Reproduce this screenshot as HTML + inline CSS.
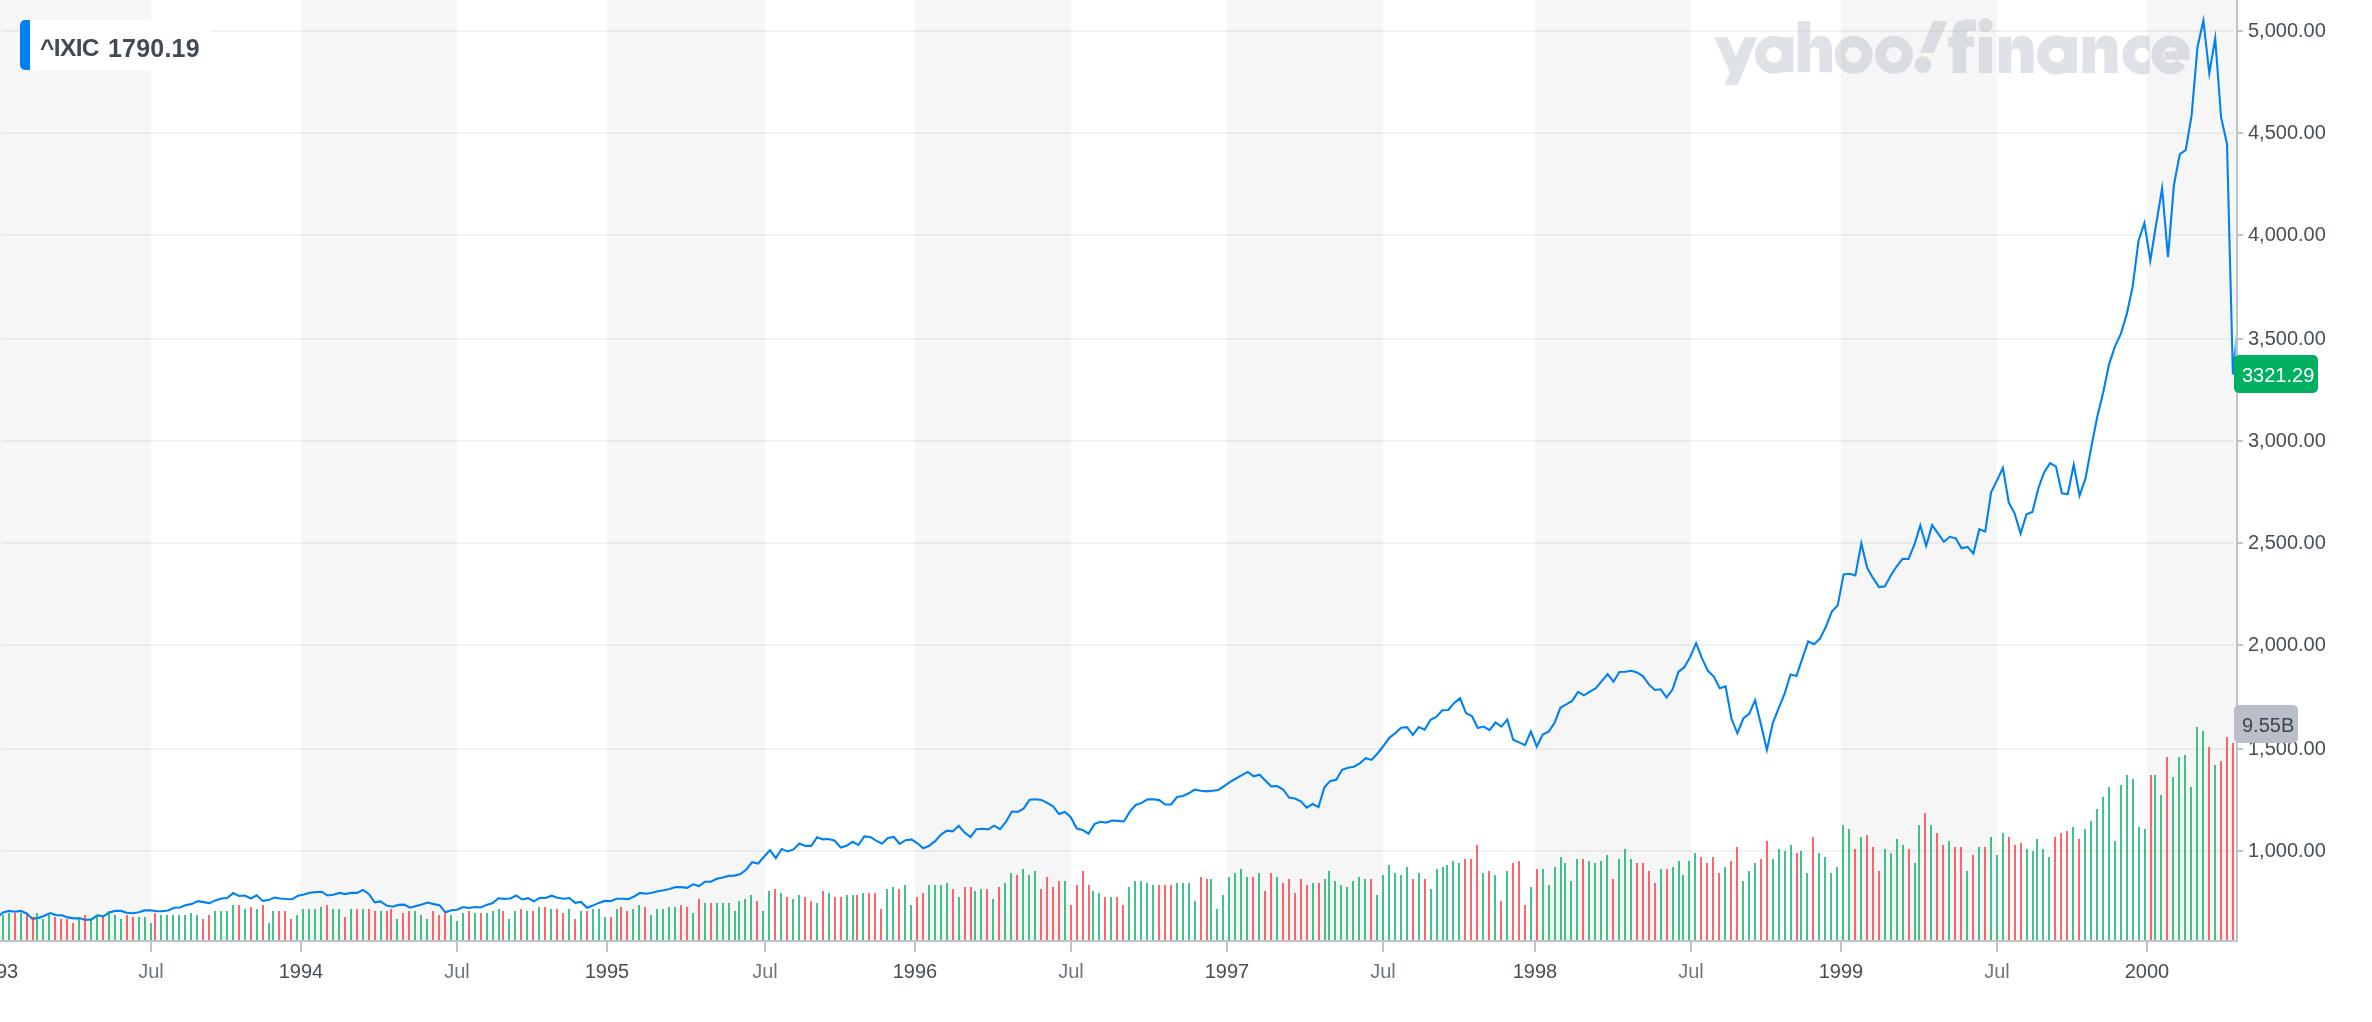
<!DOCTYPE html><html><head><meta charset="utf-8"><title>^IXIC</title><style>
html,body{margin:0;padding:0;background:#fff;}
body{width:2372px;height:1022px;overflow:hidden;position:relative;font-family:"Liberation Sans",sans-serif;}
.t{position:absolute;white-space:nowrap;will-change:transform;font-size:20px;line-height:20px;color:#464e56;}
.yl{left:2247.6px;}
.xl{top:961px;transform:translateX(-50%);}
.m{color:#6e7780;}

</style></head><body>
<svg width="2372" height="1022" viewBox="0 0 2372 1022" style="position:absolute;left:0;top:0">
<rect x="0" y="0" width="151" height="940" fill="#f6f6f6"/>
<rect x="301" y="0" width="156" height="940" fill="#f6f6f6"/>
<rect x="607" y="0" width="158" height="940" fill="#f6f6f6"/>
<rect x="915" y="0" width="156" height="940" fill="#f6f6f6"/>
<rect x="1227" y="0" width="156" height="940" fill="#f6f6f6"/>
<rect x="1535" y="0" width="156" height="940" fill="#f6f6f6"/>
<rect x="1841" y="0" width="156" height="940" fill="#f6f6f6"/>
<rect x="2147" y="0" width="89" height="940" fill="#f6f6f6"/>
<rect x="2" y="30" width="2232" height="2" fill="#000" fill-opacity="0.05"/>
<rect x="2" y="132" width="2232" height="2" fill="#000" fill-opacity="0.05"/>
<rect x="2" y="234" width="2232" height="2" fill="#000" fill-opacity="0.05"/>
<rect x="2" y="338" width="2232" height="2" fill="#000" fill-opacity="0.05"/>
<rect x="2" y="440" width="2232" height="2" fill="#000" fill-opacity="0.05"/>
<rect x="2" y="542" width="2232" height="2" fill="#000" fill-opacity="0.05"/>
<rect x="2" y="644" width="2232" height="2" fill="#000" fill-opacity="0.05"/>
<rect x="2" y="748" width="2232" height="2" fill="#000" fill-opacity="0.05"/>
<rect x="2" y="850" width="2232" height="2" fill="#000" fill-opacity="0.05"/>
<g opacity="0.3" fill="#98a5b6" style="filter:blur(0.4px)"><polygon points="1714.3,37.2 1727.7,37.2 1735.8,56.4 1744.5,37.2 1757.2,37.2 1737.7,85.0 1724.5,85.0 1729.9,72.2"/><circle cx="1774.0" cy="54.8" r="13.44" fill="none" stroke="#98a5b6" stroke-width="11.07"/><rect x="1781.4" y="37.2" width="12.1" height="35.0"/><rect x="1797.7" y="21.1" width="12.6" height="51.1"/><path d="M1810.4,43.7Q1813.6,35.8 1820.4,35.8Q1832.0,35.8 1832.0,50.1V72.2H1819.4V52.2Q1819.4,46.9 1814.8,46.9Q1810.4,46.9 1810.4,52.2Z"/><circle cx="1853.6" cy="54.8" r="13.44" fill="none" stroke="#98a5b6" stroke-width="11.07"/><circle cx="1894.0" cy="54.8" r="13.44" fill="none" stroke="#98a5b6" stroke-width="11.07"/><polygon points="1933.2,21.1 1947.4,21.1 1933.9,52.7 1920.0,52.7"/><circle cx="1923.0" cy="64.8" r="8.43"/><path d="M1952.6,73.0V33.6Q1952.6,19.3 1968.0,19.3H1976.2V30.8H1970.7Q1966.3,30.8 1966.3,35.2V73.0Z"/><rect x="1948.2" y="36.9" width="25.8" height="9.9"/><rect x="1978.9" y="36.9" width="13.2" height="36.2"/><circle cx="1985.5" cy="25.3" r="7.23"/><rect x="1998.6" y="36.9" width="12.6" height="36.2"/><path d="M2011.2,45.1Q2014.0,35.8 2022.2,35.8Q2033.7,35.8 2033.7,50.6V73.0H2020.6V53.3Q2020.6,48.4 2015.9,48.4Q2011.2,48.4 2011.2,53.3Z"/><rect x="2082.5" y="36.9" width="12.6" height="36.2"/><path d="M2095.1,45.1Q2097.8,35.8 2106.1,35.8Q2117.6,35.8 2117.6,50.6V73.0H2104.4V53.3Q2104.4,48.4 2099.7,48.4Q2095.1,48.4 2095.1,53.3Z"/><circle cx="2056.7" cy="54.9" r="13.59" fill="none" stroke="#98a5b6" stroke-width="12.28"/><rect x="2063.9" y="36.9" width="13.2" height="36.2"/><clipPath id="cc"><rect x="2115.4" y="31.9" width="34.2" height="46.0"/></clipPath><g clip-path="url(#cc)"><circle cx="2142.2" cy="54.9" r="13.59" fill="none" stroke="#98a5b6" stroke-width="12.28"/></g><path d="M2181.4,63.3 A13.59,13.59 0 1 1 2184.3,54.5" fill="none" stroke="#98a5b6" stroke-width="11.40"/><rect x="2164.2" y="51.4" width="25.5" height="8.4"/></g>
<clipPath id="cp"><rect x="0" y="0" width="2235.5" height="940"/></clipPath>
<polyline clip-path="url(#cp)" fill="none" stroke="#0081f2" stroke-width="2.1" stroke-linejoin="miter" stroke-miterlimit="10" points="-2.9,917.5 3.0,912.5 8.9,910.9 14.8,911.8 20.7,910.9 26.6,913.5 32.5,918.9 38.4,917.9 44.3,915.8 50.2,913.1 56.1,915.1 62.0,915.3 67.9,917.4 73.8,918.4 79.7,918.2 85.6,919.9 91.5,919.4 97.4,915.3 103.3,916.3 109.2,912.5 115.1,910.9 121.0,910.9 126.9,912.8 132.8,913.3 138.7,912.3 144.6,910.4 150.5,910.2 156.4,911.2 162.3,911.2 168.2,910.5 174.1,907.7 180.0,907.5 185.9,905.1 191.8,904.1 197.7,901.1 203.6,902.1 209.5,903.1 215.4,900.4 221.3,898.5 227.2,898.0 233.1,893.1 239.0,896.0 244.9,895.5 250.8,898.5 256.7,895.3 262.6,900.9 268.5,900.1 274.4,897.5 280.3,898.5 286.2,899.0 292.1,899.3 298.0,895.8 303.9,894.5 309.8,892.7 315.7,892.1 321.6,891.7 327.5,895.5 333.4,894.8 339.3,892.9 345.2,894.1 351.1,892.9 357.0,892.9 362.9,889.9 368.8,893.9 374.7,902.3 380.6,901.4 386.5,905.6 392.4,906.7 398.3,904.9 404.2,904.6 410.1,907.7 416.0,906.0 421.9,904.6 427.7,902.6 433.6,904.1 439.5,905.1 445.4,912.3 451.3,910.2 457.2,909.7 463.1,907.0 469.0,908.0 474.9,907.0 480.8,907.5 486.7,904.9 492.6,903.1 498.5,898.3 504.4,898.9 510.3,898.5 516.2,895.5 522.1,899.5 528.0,898.2 533.9,901.4 539.8,897.8 545.7,898.0 551.6,895.7 557.5,897.8 563.4,898.8 569.3,898.0 575.2,902.9 581.1,901.9 587.0,907.7 592.9,905.6 598.8,902.9 604.7,900.9 610.6,901.1 616.5,898.7 622.4,898.7 628.3,899.1 634.2,896.5 640.1,892.9 646.0,893.7 651.9,892.7 657.8,891.2 663.7,890.2 669.6,889.1 675.5,887.0 681.4,887.1 687.3,887.8 693.2,884.3 699.1,886.0 705.0,881.7 710.9,881.7 716.8,878.7 722.7,877.5 728.6,875.9 734.5,875.6 740.4,874.1 746.3,869.5 752.2,862.2 758.1,863.6 764.0,856.8 769.9,850.2 775.8,858.1 781.7,849.0 787.6,851.4 793.5,849.4 799.4,843.5 805.3,845.9 811.2,845.9 817.1,837.2 823.0,839.4 828.9,839.0 834.8,840.7 840.7,847.6 846.6,845.8 852.5,841.8 858.4,845.0 864.3,836.4 870.2,836.9 876.1,840.7 882.0,843.8 887.9,838.0 893.8,837.0 899.7,843.8 905.6,840.2 911.5,839.4 917.4,843.3 923.3,848.2 929.2,845.8 935.1,841.2 941.0,834.6 946.9,830.6 952.8,831.4 958.7,825.7 964.6,832.6 970.5,837.0 976.4,829.2 982.3,828.8 988.2,829.3 994.1,825.7 1000.0,829.2 1005.9,821.9 1011.8,811.5 1017.7,811.9 1023.6,808.7 1029.5,799.8 1035.4,799.2 1041.3,799.9 1047.2,802.9 1053.1,806.3 1059.0,814.1 1064.9,811.9 1070.8,817.2 1076.7,828.6 1082.6,829.9 1088.5,833.7 1094.4,824.1 1100.3,821.8 1106.2,822.6 1112.1,820.5 1118.0,820.9 1123.9,821.5 1129.8,811.6 1135.7,805.0 1141.6,802.9 1147.5,799.4 1153.4,799.2 1159.3,800.1 1165.2,804.5 1171.1,804.5 1177.0,797.0 1182.9,796.0 1188.8,793.3 1194.7,789.7 1200.6,790.7 1206.5,791.4 1212.4,790.7 1218.3,790.0 1224.2,786.1 1230.1,781.8 1236.0,778.5 1241.9,775.1 1247.8,771.9 1253.7,776.3 1259.6,774.7 1265.5,780.7 1271.3,786.4 1277.2,786.0 1283.1,789.5 1289.0,797.6 1294.9,798.5 1300.8,801.3 1306.7,807.7 1312.6,804.0 1318.5,807.1 1324.4,787.4 1330.3,780.9 1336.2,779.7 1342.1,769.8 1348.0,767.7 1353.9,766.7 1359.8,763.3 1365.7,758.2 1371.6,759.9 1377.5,753.5 1383.4,746.0 1389.3,737.8 1395.2,733.2 1401.1,727.8 1407.0,727.1 1412.9,735.0 1418.8,727.1 1424.7,729.6 1430.6,719.7 1436.5,716.6 1442.4,710.2 1448.3,710.0 1454.2,702.9 1460.1,698.3 1466.0,713.1 1471.9,716.1 1477.8,728.0 1483.7,726.6 1489.6,730.2 1495.5,722.5 1501.4,726.6 1507.3,719.6 1513.2,739.7 1519.1,742.4 1525.0,745.1 1530.9,731.6 1536.8,746.7 1542.7,734.5 1548.6,731.7 1554.5,723.0 1560.4,707.8 1566.3,704.4 1572.2,700.9 1578.1,691.8 1584.0,695.3 1589.9,691.7 1595.8,688.1 1601.7,681.1 1607.6,674.2 1613.5,681.7 1619.4,672.0 1625.3,671.8 1631.2,670.8 1637.1,672.4 1643.0,676.3 1648.9,684.4 1654.8,690.0 1660.7,689.3 1666.6,697.5 1672.5,689.6 1678.4,671.8 1684.3,667.2 1690.2,656.9 1696.1,643.2 1702.0,658.4 1707.9,670.8 1713.8,676.6 1719.7,688.2 1725.6,686.4 1731.5,718.8 1737.4,733.3 1743.3,718.5 1749.2,713.8 1755.1,700.2 1761.0,724.7 1766.9,749.9 1772.8,723.0 1778.7,708.2 1784.6,693.7 1790.5,674.5 1796.4,675.9 1802.3,658.7 1808.2,641.5 1814.1,644.2 1820.0,638.6 1825.9,626.8 1831.8,611.5 1837.7,605.6 1843.6,574.4 1849.5,573.7 1855.4,575.5 1861.3,543.4 1867.2,567.9 1873.1,578.2 1879.0,587.1 1884.9,586.2 1890.8,575.5 1896.7,566.3 1902.6,558.8 1908.5,559.0 1914.4,544.7 1920.3,525.4 1926.2,546.0 1932.1,525.2 1938.0,533.4 1943.9,541.8 1949.8,536.8 1955.7,538.3 1961.6,548.3 1967.5,546.9 1973.4,553.5 1979.3,529.2 1985.2,531.6 1991.1,492.4 1997.0,480.4 2002.9,467.9 2008.8,502.6 2014.7,513.6 2020.6,533.6 2026.5,514.4 2032.4,512.0 2038.3,488.5 2044.2,472.1 2050.1,463.2 2056.0,466.6 2061.9,493.2 2067.8,494.0 2073.7,464.8 2079.6,495.6 2085.5,478.4 2091.4,446.5 2097.3,416.5 2103.2,392.4 2109.1,364.1 2114.9,346.6 2120.8,333.9 2126.7,314.4 2132.6,287.0 2138.5,241.0 2144.4,223.0 2150.3,260.5 2156.2,224.0 2162.1,188.5 2168.0,257.2 2173.9,185.2 2179.8,154.1 2185.7,150.2 2191.6,115.4 2197.5,46.9 2203.4,20.5 2209.3,73.3 2215.2,38.3 2221.1,117.4 2227.0,143.8 2232.9,374.5 2238.8,316.0"/>
<path d="M2 915h2v25h-2zM8 913h2v27h-2zM20 913h2v27h-2zM36 913h2v27h-2zM42 919h2v21h-2zM48 915h2v25h-2zM78 917h2v23h-2zM90 919h2v21h-2zM96 915h2v25h-2zM108 911h2v29h-2zM114 915h2v25h-2zM120 919h2v21h-2zM138 917h2v23h-2zM144 917h2v23h-2zM150 923h2v17h-2zM160 915h2v25h-2zM166 915h2v25h-2zM172 915h2v25h-2zM178 915h2v25h-2zM184 915h2v25h-2zM190 913h2v27h-2zM196 915h2v25h-2zM214 911h2v29h-2zM220 911h2v29h-2zM226 911h2v29h-2zM232 905h2v35h-2zM244 909h2v31h-2zM256 909h2v31h-2zM268 923h2v17h-2zM272 911h2v29h-2zM296 915h2v25h-2zM302 909h2v31h-2zM308 909h2v31h-2zM314 909h2v31h-2zM320 907h2v33h-2zM332 909h2v31h-2zM338 909h2v31h-2zM350 909h2v31h-2zM362 909h2v31h-2zM380 911h2v29h-2zM396 919h2v21h-2zM414 911h2v29h-2zM420 915h2v25h-2zM426 919h2v21h-2zM450 915h2v25h-2zM456 921h2v19h-2zM462 913h2v27h-2zM474 913h2v27h-2zM486 913h2v27h-2zM492 911h2v29h-2zM498 909h2v31h-2zM508 919h2v21h-2zM514 911h2v29h-2zM526 911h2v29h-2zM538 907h2v33h-2zM550 909h2v31h-2zM568 909h2v31h-2zM580 911h2v29h-2zM592 909h2v31h-2zM598 909h2v31h-2zM604 917h2v23h-2zM616 909h2v31h-2zM632 909h2v31h-2zM638 905h2v35h-2zM650 915h2v25h-2zM656 909h2v31h-2zM662 909h2v31h-2zM668 907h2v33h-2zM674 907h2v33h-2zM692 913h2v27h-2zM704 903h2v37h-2zM716 903h2v37h-2zM722 903h2v37h-2zM728 903h2v37h-2zM734 911h2v29h-2zM738 901h2v39h-2zM744 899h2v41h-2zM750 895h2v45h-2zM762 911h2v29h-2zM768 891h2v49h-2zM780 893h2v47h-2zM792 899h2v41h-2zM798 895h2v45h-2zM816 903h2v37h-2zM828 893h2v47h-2zM846 895h2v45h-2zM852 895h2v45h-2zM862 893h2v47h-2zM886 889h2v51h-2zM892 887h2v53h-2zM904 885h2v55h-2zM910 905h2v35h-2zM928 885h2v55h-2zM934 885h2v55h-2zM940 885h2v55h-2zM946 883h2v57h-2zM958 897h2v43h-2zM974 891h2v49h-2zM980 889h2v51h-2zM992 899h2v41h-2zM1004 883h2v57h-2zM1010 873h2v67h-2zM1022 869h2v71h-2zM1028 875h2v65h-2zM1034 871h2v69h-2zM1064 881h2v59h-2zM1092 891h2v49h-2zM1098 893h2v47h-2zM1110 897h2v43h-2zM1128 887h2v53h-2zM1134 881h2v59h-2zM1140 881h2v59h-2zM1146 883h2v57h-2zM1152 885h2v55h-2zM1176 883h2v57h-2zM1182 883h2v57h-2zM1188 883h2v57h-2zM1194 901h2v39h-2zM1210 879h2v61h-2zM1216 909h2v31h-2zM1222 895h2v45h-2zM1228 877h2v63h-2zM1234 873h2v67h-2zM1240 869h2v71h-2zM1246 877h2v63h-2zM1258 873h2v67h-2zM1276 877h2v63h-2zM1312 883h2v57h-2zM1324 879h2v61h-2zM1328 871h2v69h-2zM1334 881h2v59h-2zM1340 885h2v55h-2zM1346 887h2v53h-2zM1352 881h2v59h-2zM1358 877h2v63h-2zM1364 879h2v61h-2zM1376 895h2v45h-2zM1382 875h2v65h-2zM1388 865h2v75h-2zM1394 873h2v67h-2zM1400 875h2v65h-2zM1406 867h2v73h-2zM1418 873h2v67h-2zM1430 889h2v51h-2zM1436 869h2v71h-2zM1442 867h2v73h-2zM1446 865h2v75h-2zM1452 861h2v79h-2zM1458 863h2v77h-2zM1482 873h2v67h-2zM1494 875h2v65h-2zM1506 871h2v69h-2zM1530 887h2v53h-2zM1542 869h2v71h-2zM1548 885h2v55h-2zM1554 867h2v73h-2zM1560 857h2v83h-2zM1564 863h2v77h-2zM1570 881h2v59h-2zM1576 859h2v81h-2zM1588 861h2v79h-2zM1594 863h2v77h-2zM1600 861h2v79h-2zM1606 855h2v85h-2zM1618 859h2v81h-2zM1624 849h2v91h-2zM1630 859h2v81h-2zM1660 869h2v71h-2zM1672 867h2v73h-2zM1678 861h2v79h-2zM1682 875h2v65h-2zM1688 861h2v79h-2zM1694 853h2v87h-2zM1724 867h2v73h-2zM1742 881h2v59h-2zM1748 871h2v69h-2zM1754 863h2v77h-2zM1772 859h2v81h-2zM1778 849h2v91h-2zM1784 851h2v89h-2zM1790 845h2v95h-2zM1800 851h2v89h-2zM1806 873h2v67h-2zM1818 853h2v87h-2zM1824 857h2v83h-2zM1830 873h2v67h-2zM1836 867h2v73h-2zM1842 825h2v115h-2zM1848 829h2v111h-2zM1860 837h2v103h-2zM1884 849h2v91h-2zM1890 853h2v87h-2zM1896 839h2v101h-2zM1902 845h2v95h-2zM1914 863h2v77h-2zM1918 825h2v115h-2zM1930 825h2v115h-2zM1948 841h2v99h-2zM1966 871h2v69h-2zM1978 847h2v93h-2zM1990 837h2v103h-2zM1996 855h2v85h-2zM2002 833h2v107h-2zM2026 849h2v91h-2zM2032 851h2v89h-2zM2036 839h2v101h-2zM2042 849h2v91h-2zM2048 857h2v83h-2zM2072 827h2v113h-2zM2084 829h2v111h-2zM2090 821h2v119h-2zM2096 809h2v131h-2zM2102 797h2v143h-2zM2108 787h2v153h-2zM2114 841h2v99h-2zM2120 785h2v155h-2zM2126 775h2v165h-2zM2132 779h2v161h-2zM2138 827h2v113h-2zM2144 829h2v111h-2zM2154 775h2v165h-2zM2160 795h2v145h-2zM2172 777h2v163h-2zM2178 757h2v183h-2zM2184 755h2v185h-2zM2190 787h2v153h-2zM2196 727h2v213h-2zM2202 731h2v209h-2zM2214 765h2v175h-2z" fill="#00b061" fill-opacity="0.75"/>
<path d="M14 913h2v27h-2zM26 915h2v25h-2zM32 917h2v23h-2zM54 917h2v23h-2zM60 919h2v21h-2zM66 919h2v21h-2zM72 923h2v17h-2zM84 915h2v25h-2zM102 917h2v23h-2zM126 915h2v25h-2zM132 917h2v23h-2zM154 913h2v27h-2zM202 919h2v21h-2zM208 915h2v25h-2zM238 905h2v35h-2zM250 907h2v33h-2zM262 905h2v35h-2zM278 911h2v29h-2zM284 911h2v29h-2zM290 919h2v21h-2zM326 905h2v35h-2zM344 917h2v23h-2zM356 909h2v31h-2zM368 909h2v31h-2zM374 911h2v29h-2zM386 911h2v29h-2zM390 909h2v31h-2zM402 913h2v27h-2zM408 911h2v29h-2zM432 911h2v29h-2zM438 915h2v25h-2zM444 913h2v27h-2zM468 911h2v29h-2zM480 913h2v27h-2zM502 911h2v29h-2zM520 909h2v31h-2zM532 911h2v29h-2zM544 907h2v33h-2zM556 909h2v31h-2zM562 913h2v27h-2zM574 919h2v21h-2zM586 911h2v29h-2zM610 917h2v23h-2zM620 907h2v33h-2zM626 911h2v29h-2zM644 907h2v33h-2zM680 905h2v35h-2zM686 907h2v33h-2zM698 899h2v41h-2zM710 903h2v37h-2zM756 901h2v39h-2zM774 889h2v51h-2zM786 897h2v43h-2zM804 897h2v43h-2zM810 901h2v39h-2zM822 891h2v49h-2zM834 897h2v43h-2zM840 897h2v43h-2zM856 895h2v45h-2zM868 893h2v47h-2zM874 893h2v47h-2zM880 909h2v31h-2zM898 889h2v51h-2zM916 897h2v43h-2zM922 893h2v47h-2zM952 889h2v51h-2zM964 887h2v53h-2zM970 887h2v53h-2zM986 889h2v51h-2zM998 887h2v53h-2zM1016 875h2v65h-2zM1040 889h2v51h-2zM1046 877h2v63h-2zM1052 887h2v53h-2zM1058 881h2v59h-2zM1070 905h2v35h-2zM1076 885h2v55h-2zM1082 871h2v69h-2zM1088 885h2v55h-2zM1104 897h2v43h-2zM1116 897h2v43h-2zM1122 905h2v35h-2zM1158 885h2v55h-2zM1164 885h2v55h-2zM1170 885h2v55h-2zM1200 877h2v63h-2zM1206 879h2v61h-2zM1252 877h2v63h-2zM1264 891h2v49h-2zM1270 873h2v67h-2zM1282 883h2v57h-2zM1288 879h2v61h-2zM1294 893h2v47h-2zM1300 879h2v61h-2zM1306 885h2v55h-2zM1318 883h2v57h-2zM1370 879h2v61h-2zM1412 879h2v61h-2zM1424 879h2v61h-2zM1464 859h2v81h-2zM1470 859h2v81h-2zM1476 845h2v95h-2zM1488 871h2v69h-2zM1500 901h2v39h-2zM1512 863h2v77h-2zM1518 861h2v79h-2zM1524 905h2v35h-2zM1536 869h2v71h-2zM1582 859h2v81h-2zM1612 879h2v61h-2zM1636 863h2v77h-2zM1642 863h2v77h-2zM1648 871h2v69h-2zM1654 883h2v57h-2zM1666 869h2v71h-2zM1700 857h2v83h-2zM1706 863h2v77h-2zM1712 857h2v83h-2zM1718 873h2v67h-2zM1730 861h2v79h-2zM1736 847h2v93h-2zM1760 859h2v81h-2zM1766 841h2v99h-2zM1796 853h2v87h-2zM1812 837h2v103h-2zM1854 849h2v91h-2zM1866 835h2v105h-2zM1872 847h2v93h-2zM1878 871h2v69h-2zM1908 849h2v91h-2zM1924 813h2v127h-2zM1936 833h2v107h-2zM1942 845h2v95h-2zM1954 847h2v93h-2zM1960 847h2v93h-2zM1972 855h2v85h-2zM1984 847h2v93h-2zM2008 837h2v103h-2zM2014 845h2v95h-2zM2020 843h2v97h-2zM2054 837h2v103h-2zM2060 833h2v107h-2zM2066 831h2v109h-2zM2078 839h2v101h-2zM2150 775h2v165h-2zM2166 757h2v183h-2zM2208 747h2v193h-2zM2220 761h2v179h-2zM2226 737h2v203h-2zM2232 743h2v197h-2z" fill="#ff333a" fill-opacity="0.75"/>
<rect x="0" y="940" width="2238" height="2" fill="#c0c4c8"/>
<rect x="2236" y="0" width="2" height="942" fill="#c0c4c8"/>
<rect x="2238" y="30" width="5" height="2" fill="#c0c4c8"/>
<rect x="2238" y="132" width="5" height="2" fill="#c0c4c8"/>
<rect x="2238" y="234" width="5" height="2" fill="#c0c4c8"/>
<rect x="2238" y="338" width="5" height="2" fill="#c0c4c8"/>
<rect x="2238" y="440" width="5" height="2" fill="#c0c4c8"/>
<rect x="2238" y="542" width="5" height="2" fill="#c0c4c8"/>
<rect x="2238" y="644" width="5" height="2" fill="#c0c4c8"/>
<rect x="2238" y="748" width="5" height="2" fill="#c0c4c8"/>
<rect x="2238" y="850" width="5" height="2" fill="#c0c4c8"/>
<rect x="150" y="942" width="2" height="10" fill="#c0c4c8"/>
<rect x="300" y="942" width="2" height="10" fill="#c0c4c8"/>
<rect x="456" y="942" width="2" height="10" fill="#c0c4c8"/>
<rect x="606" y="942" width="2" height="10" fill="#c0c4c8"/>
<rect x="764" y="942" width="2" height="10" fill="#c0c4c8"/>
<rect x="914" y="942" width="2" height="10" fill="#c0c4c8"/>
<rect x="1070" y="942" width="2" height="10" fill="#c0c4c8"/>
<rect x="1226" y="942" width="2" height="10" fill="#c0c4c8"/>
<rect x="1382" y="942" width="2" height="10" fill="#c0c4c8"/>
<rect x="1534" y="942" width="2" height="10" fill="#c0c4c8"/>
<rect x="1690" y="942" width="2" height="10" fill="#c0c4c8"/>
<rect x="1840" y="942" width="2" height="10" fill="#c0c4c8"/>
<rect x="1996" y="942" width="2" height="10" fill="#c0c4c8"/>
<rect x="2146" y="942" width="2" height="10" fill="#c0c4c8"/>
</svg>
<div class="t yl" style="top:20px">5,000.00</div>
<div class="t yl" style="top:122px">4,500.00</div>
<div class="t yl" style="top:224px">4,000.00</div>
<div class="t yl" style="top:328px">3,500.00</div>
<div class="t yl" style="top:430px">3,000.00</div>
<div class="t yl" style="top:532px">2,500.00</div>
<div class="t yl" style="top:634px">2,000.00</div>
<div class="t yl" style="top:738px">1,500.00</div>
<div class="t yl" style="top:840px">1,000.00</div>
<div class="t xl" style="left:-4.3px">1993</div>
<div class="t xl m" style="left:151px">Jul</div>
<div class="t xl" style="left:301px">1994</div>
<div class="t xl m" style="left:457px">Jul</div>
<div class="t xl" style="left:607px">1995</div>
<div class="t xl m" style="left:765px">Jul</div>
<div class="t xl" style="left:915px">1996</div>
<div class="t xl m" style="left:1071px">Jul</div>
<div class="t xl" style="left:1227px">1997</div>
<div class="t xl m" style="left:1383px">Jul</div>
<div class="t xl" style="left:1535px">1998</div>
<div class="t xl m" style="left:1691px">Jul</div>
<div class="t xl" style="left:1841px">1999</div>
<div class="t xl m" style="left:1997px">Jul</div>
<div class="t xl" style="left:2147px">2000</div>
<div style="position:absolute;left:2234px;top:355px;width:84px;height:38px;border-radius:5px;background:#00b061"></div>
<div style="position:absolute;left:2234px;top:705px;width:64px;height:38px;border-radius:5px;background:#b9bec9"></div>
<div class="t" style="left:2242px;top:365.4px;color:#fff">3321.29</div>
<div class="t" style="left:2242px;top:715.4px;color:#3f4650">9.55B</div>
<div style="position:absolute;left:20px;top:20px;width:190px;height:50px;background:#fff;"></div>
<div style="position:absolute;left:20px;top:20px;width:10px;height:50px;background:#0081f2;border-radius:5px 0 0 5px;"></div>
<div class="t" id="sym" style="left:40px;top:34px;font-weight:bold;font-size:24.5px;line-height:28px;color:#414a55;letter-spacing:-0.6px">^IXIC</div>
<div class="t" id="val" style="left:108px;top:34px;font-weight:bold;font-size:25px;line-height:28px;color:#414a55;letter-spacing:0.2px">1790.19</div>
</body></html>
